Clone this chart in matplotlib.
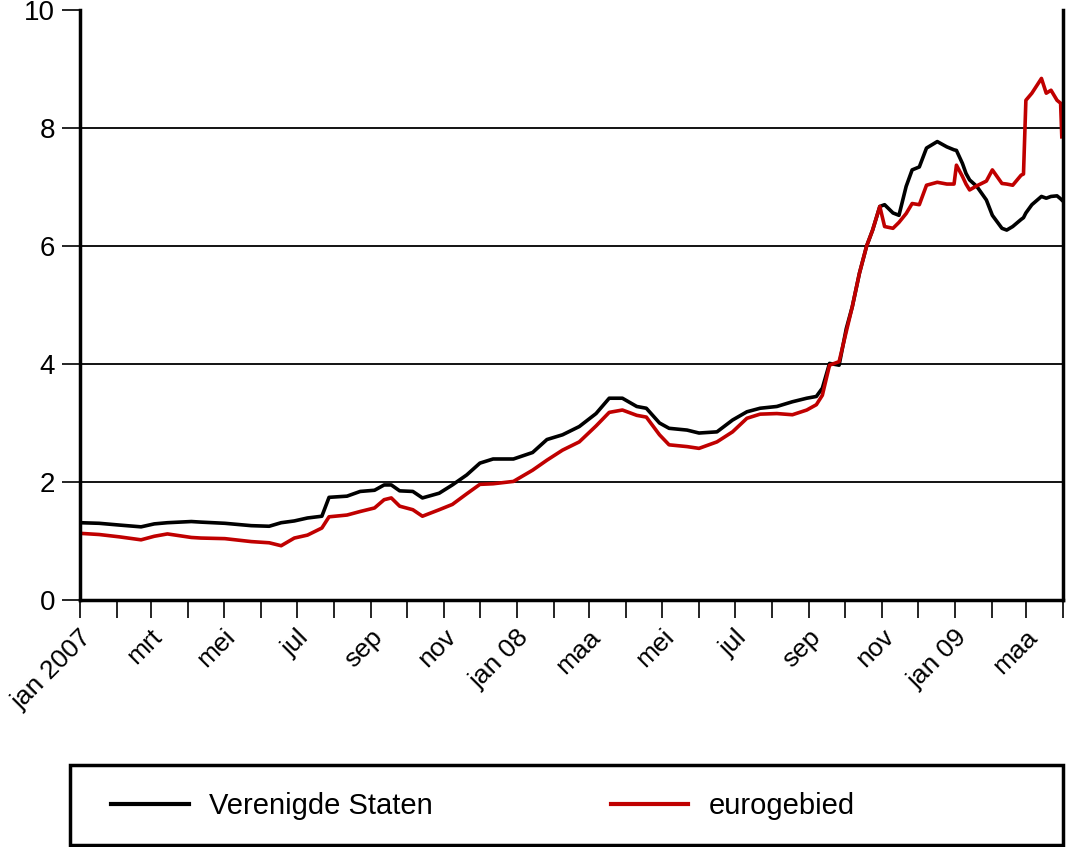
import numpy as np
import pandas as pd
import matplotlib
matplotlib.use("Agg")
import matplotlib.pyplot as plt
import matplotlib.transforms as mtransforms
from matplotlib.patches import Rectangle

# Data
dates = [
    "2007-01-01", "2007-01-17", "2007-02-03", "2007-02-21", "2007-03-04", "2007-03-15",
    "2007-04-04", "2007-04-12", "2007-05-02", "2007-05-24", "2007-06-08", "2007-06-18",
    "2007-06-29", "2007-07-10", "2007-07-22", "2007-07-28", "2007-08-12", "2007-08-23",
    "2007-09-04", "2007-09-12", "2007-09-18", "2007-09-25", "2007-10-06", "2007-10-14",
    "2007-10-28", "2007-11-08", "2007-11-20", "2007-12-01", "2007-12-12", "2007-12-29",
    "2008-01-14", "2008-01-26", "2008-02-08", "2008-02-22", "2008-03-07", "2008-03-18",
    "2008-03-29", "2008-04-10", "2008-04-18", "2008-04-29", "2008-05-07", "2008-05-22",
    "2008-06-01", "2008-06-16", "2008-06-29", "2008-07-11", "2008-07-22", "2008-08-05",
    "2008-08-18", "2008-08-30", "2008-09-07", "2008-09-12", "2008-09-18", "2008-09-26",
    "2008-10-02", "2008-10-07", "2008-10-13", "2008-10-19", "2008-10-24", "2008-10-30",
    "2008-11-03", "2008-11-10", "2008-11-15", "2008-11-21", "2008-11-26", "2008-12-02",
    "2008-12-08", "2008-12-17", "2008-12-25", "2008-12-31", "2009-01-02", "2009-01-07",
    "2009-01-10", "2009-01-13", "2009-01-19", "2009-01-27", "2009-02-01", "2009-02-09",
    "2009-02-13", "2009-02-18", "2009-02-25", "2009-02-27", "2009-03-01", "2009-03-06",
    "2009-03-14", "2009-03-18", "2009-03-22", "2009-03-27", "2009-03-30", "2009-03-31",
]
verenigde_staten = [
    1.31, 1.30, 1.27, 1.24, 1.29, 1.31,
    1.33, 1.32, 1.30, 1.26, 1.25, 1.31,
    1.34, 1.39, 1.42, 1.74, 1.76, 1.84,
    1.86, 1.95, 1.95, 1.85, 1.84, 1.73,
    1.81, 1.95, 2.12, 2.32, 2.39, 2.39,
    2.50, 2.72, 2.80, 2.94, 3.16, 3.42,
    3.42, 3.28, 3.25, 3.00, 2.91, 2.88,
    2.83, 2.85, 3.05, 3.19, 3.25, 3.28,
    3.36, 3.42, 3.45, 3.59, 4.01, 3.98,
    4.60, 4.97, 5.54, 6.00, 6.27, 6.67,
    6.70, 6.56, 6.52, 7.01, 7.29, 7.34,
    7.66, 7.77, 7.68, 7.63, 7.62, 7.40,
    7.23, 7.12, 7.01, 6.78, 6.52, 6.30,
    6.27, 6.33, 6.45, 6.48, 6.56, 6.70,
    6.84, 6.81, 6.84, 6.85, 6.80, 6.78,
]
eurogebied = [
    1.13, 1.11, 1.07, 1.02, 1.08, 1.12,
    1.06, 1.05, 1.04, 0.99, 0.97, 0.92,
    1.05, 1.10, 1.22, 1.41, 1.44, 1.50,
    1.56, 1.70, 1.73, 1.59, 1.53, 1.42,
    1.53, 1.62, 1.80, 1.96, 1.97, 2.01,
    2.20, 2.37, 2.54, 2.68, 2.95, 3.18,
    3.22, 3.13, 3.10, 2.80, 2.63, 2.60,
    2.57, 2.68, 2.85, 3.08, 3.15, 3.16,
    3.14, 3.22, 3.31, 3.47, 3.98, 4.04,
    4.55, 4.97, 5.54, 6.00, 6.27, 6.67,
    6.33, 6.30, 6.40, 6.55, 6.72, 6.70,
    7.03, 7.08, 7.05, 7.05, 7.37, 7.18,
    7.05, 6.95, 7.02, 7.10, 7.29, 7.06,
    7.05, 7.03, 7.20, 7.22, 8.47, 8.59,
    8.84, 8.59, 8.64, 8.47, 8.42, 7.85,
]
tick_labels = ["jan 2007", "", "mrt", "", "mei", "", "jul", "", "sep", "", "nov", "",
               "jan 08", "", "maa", "", "mei", "", "jul", "", "sep", "", "nov", "",
               "jan 09", "", "maa", "", ""]

x = pd.to_datetime(dates)
month_ticks = pd.date_range("2007-01-01", "2009-04-01", freq="MS")

plt.rcParams['font.family'] = ['Liberation Sans', 'DejaVu Sans']
fig = plt.figure(figsize=(10.66, 8.47), dpi=100)
ax = fig.add_axes([80 / 1066, 1 - 600 / 847, 983 / 1066, 590 / 847])

ax.plot(x, verenigde_staten, color='black', lw=2.6, label='Verenigde Staten')
ax.plot(x, eurogebied, color='#c00000', lw=2.6, label='eurogebied')

ax.set_xlim(month_ticks[0], month_ticks[-1])
ax.set_ylim(0, 10)
ax.set_yticks([0, 2, 4, 6, 8, 10])
for yv in [2, 4, 6, 8]:
    ax.axhline(yv, color='black', lw=1.3, zorder=0)

ax.set_xticks(month_ticks)
ax.set_xticklabels(tick_labels[:len(month_ticks)], rotation=45, ha='right',
                   va='center', rotation_mode='anchor', fontsize=19)
ax.tick_params(axis='x', length=13, width=1.2, pad=11)
ax.tick_params(axis='y', length=13, width=1.2, pad=5, labelsize=20)

# nudge the rotated month labels a little to the right
shift = mtransforms.ScaledTranslation(8 / 100, 0, fig.dpi_scale_trans)
for lbl in ax.get_xticklabels():
    lbl.set_transform(lbl.get_transform() + shift)

ax.spines['top'].set_visible(False)
for s in ['left', 'bottom', 'right']:
    ax.spines[s].set_linewidth(2.5)

# legend in a box at the bottom
leg = fig.legend(loc='center left', bbox_to_anchor=(85 / 1066, 1 - 806 / 847),
                 ncol=2, frameon=False, fontsize=21, handlelength=2.65,
                 handletextpad=0.7, columnspacing=6.1)
for line in leg.get_lines():
    line.set_linewidth(3)
fig.add_artist(Rectangle((70 / 1066, 2 / 847), 993 / 1066, 80 / 847,
                         transform=fig.transFigure, fill=False, lw=2.5, edgecolor='black'))

plt.savefig("out.png", dpi=100)
